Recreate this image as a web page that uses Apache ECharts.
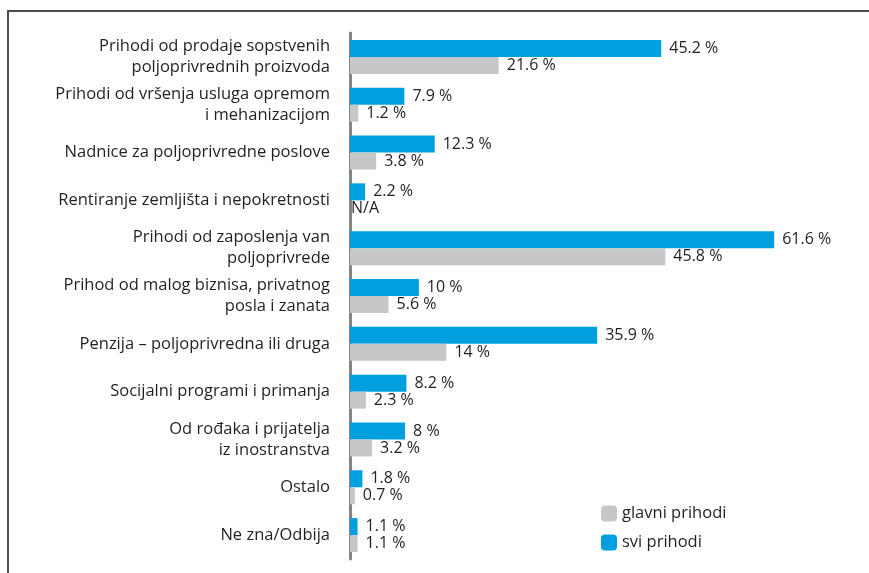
<!DOCTYPE html>
<html>
<head>
<meta charset="utf-8">
<script src="https://cdn.jsdelivr.net/npm/echarts@6/dist/echarts.min.js"></script>
<style>
  html, body { margin: 0; padding: 0; background: #fff; }
  #chart { width: 869px; height: 573px; }
</style>
</head>
<body>
<div id="chart"></div>
<script>
// kategorije prihoda
var categories = [
  'Prihodi od prodaje sopstvenih\npoljoprivrednih proizvoda',
  'Prihodi od vršenja usluga opremom\ni mehanizacijom',
  'Nadnice za poljoprivredne poslove',
  'Rentiranje zemljišta i nepokretnosti',
  'Prihodi od zaposlenja van\npoljoprivrede',
  'Prihod od malog biznisa, privatnog\nposla i zanata',
  'Penzija – poljoprivredna ili druga',
  'Socijalni programi i primanja',
  'Od rođaka i prijatelja\niz inostranstva',
  'Ostalo',
  'Ne zna/Odbija'
];
var sviPrihodi = [45.2, 7.9, 12.3, 2.2, 61.6, 10, 35.9, 8.2, 8, 1.8, 1.1];
var glavniPrihodi = [21.6, 1.2, 3.8, null, 45.8, 5.6, 14, 2.3, 3.2, 0.7, 1.1];

var fontFam = '"Open Sans", "Noto Sans", sans-serif';
var txtColor = '#231f20';

function pct(v) {
  return v + ' %';
}

var chart = echarts.init(document.getElementById('chart'));
var option = {
  animation: false,
  textStyle: { fontFamily: fontFam },
  grid: { left: 350, right: 37, top: 33, bottom: 14 },
  legend: {
    orient: 'vertical',
    left: 596,
    top: 500,
    itemWidth: 16,
    itemHeight: 16,
    itemGap: 12,
    data: ['glavni prihodi', 'svi prihodi'],
    textStyle: { fontSize: 16.5, color: txtColor, fontFamily: fontFam }
  },
  xAxis: {
    type: 'value',
    min: 0,
    max: 70,
    show: false
  },
  yAxis: {
    type: 'category',
    inverse: true,
    data: categories,
    axisTick: { show: false },
    axisLine: { show: true, lineStyle: { color: '#858585', width: 3 } },
    axisLabel: {
      margin: 20,
      fontSize: 16.5,
      lineHeight: 21,
      color: txtColor,
      fontFamily: fontFam,
      align: 'right'
    }
  },
  series: [
    {
      name: 'svi prihodi',
      type: 'bar',
      barWidth: 17,
      barGap: '0%',
      itemStyle: { color: '#009fe0' },
      label: {
        show: true,
        position: 'right',
        distance: 8,
        fontSize: 16,
        color: txtColor,
        fontFamily: fontFam,
        formatter: function (p) { return pct(p.value); }
      },
      data: sviPrihodi
    },
    {
      name: 'glavni prihodi',
      type: 'bar',
      barWidth: 17,
      barGap: '0%',
      itemStyle: { color: '#c6c7c9' },
      label: {
        show: true,
        position: 'right',
        distance: 8,
        fontSize: 16,
        color: txtColor,
        fontFamily: fontFam,
        formatter: function (p) { return pct(p.value); }
      },
      data: glavniPrihodi.map(function (v) {
        if (v === null) {
          return { value: 0, label: { formatter: 'N/A', distance: 1 } };
        }
        return v;
      })
    }
  ],
  graphic: [
    {
      type: 'polyline',
      shape: { points: [[8, 573], [8, 11], [869, 11]] },
      style: { stroke: '#4d4d4d', lineWidth: 2, fill: null }
    }
  ]
};
chart.setOption(option);
window.addEventListener('resize', function () { chart.resize(); });
</script>
</body>
</html>
